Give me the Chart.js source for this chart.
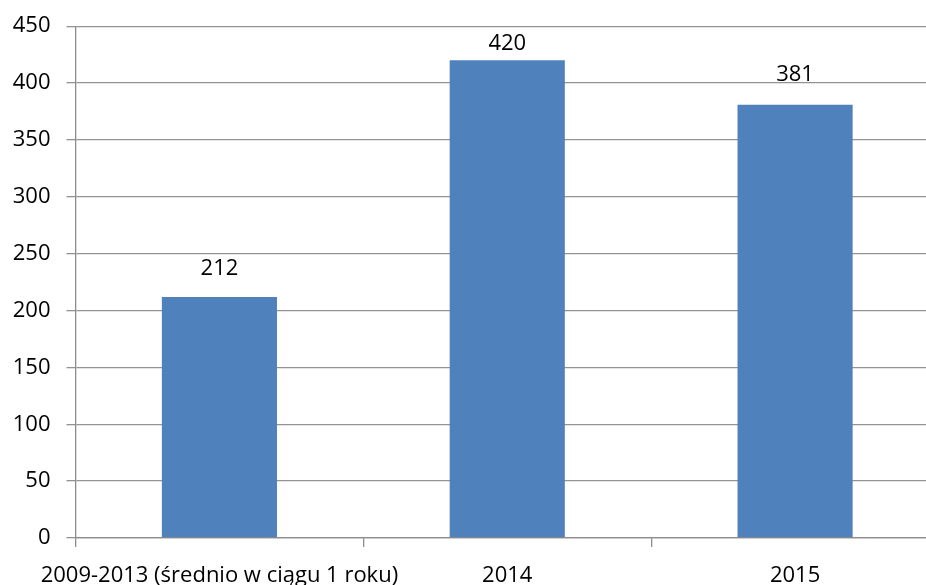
<!DOCTYPE html>
<html>
<head>
<meta charset="utf-8">
<script src="https://cdn.jsdelivr.net/npm/chart.js@4/dist/chart.umd.min.js"></script>
<style>
  html, body { margin: 0; padding: 0; background: #fff; overflow: hidden; }
  #chart { display: block; margin-top: -3px; }
</style>
</head>
<body>
<canvas id="chart" width="940" height="588"></canvas>
<script>
var categories = ["2009-2013 (średnio w ciągu 1 roku)", "2014", "2015"];
var values = [212, 420, 381];
var yTicks = [0, 50, 100, 150, 200, 250, 300, 350, 400, 450];

var FONT = "'Open Sans', 'DejaVu Sans', sans-serif";

/* draws the value above every bar */
var valueLabels = {
  id: "valueLabels",
  afterDatasetsDraw: function(chart, args, opts) {
    var ctx = chart.ctx;
    var meta = chart.getDatasetMeta(0);
    ctx.save();
    ctx.font = "22px " + FONT;
    ctx.fillStyle = "#000";
    ctx.textAlign = "center";
    ctx.textBaseline = "middle";
    meta.data.forEach(function(bar, i) {
      ctx.fillText(values[i], bar.x, bar.y - opts.gaps[i]);
    });
    ctx.restore();
  }
};

var ctx = document.getElementById("chart").getContext("2d");
var myChart = new Chart(ctx, {
  type: "bar",
  data: {
    labels: categories,
    datasets: [{
      data: values,
      backgroundColor: "#4F81BD",
      categoryPercentage: 1,
      barPercentage: 0.4
    }]
  },
  options: {
    responsive: false,
    animation: false,
    layout: { padding: { top: 10, right: 1, left: 0, bottom: 0 } },
    plugins: {
      legend: { display: false },
      tooltip: { enabled: false },
      valueLabels: { gaps: [28, 17, 30] }
    },
    scales: {
      x: {
        offset: true,
        grid: { offset: true, drawOnChartArea: false, drawTicks: true, tickLength: 9, color: "#8c8c8c", lineWidth: 1.3 },
        border: { color: "#8c8c8c", width: 1.3 },
        ticks: { color: "#000", font: { family: FONT, size: 22 }, padding: 16, maxRotation: 0, autoSkip: false },
        afterFit: function(scale) { scale.height = 47; }
      },
      y: {
        min: 0,
        max: 450,
        afterBuildTicks: function(scale) {
          scale.ticks = yTicks.map(function(v) { return { value: v }; });
        },
        grid: { color: "#939393", tickLength: 9, lineWidth: 1.3 },
        border: { color: "#8c8c8c", width: 1.3 },
        ticks: { color: "#000", font: { family: FONT, size: 22 }, padding: 16 },
        afterFit: function(scale) { scale.width = 75.5; }
      }
    }
  },
  plugins: [valueLabels]
});
</script>
</body>
</html>
